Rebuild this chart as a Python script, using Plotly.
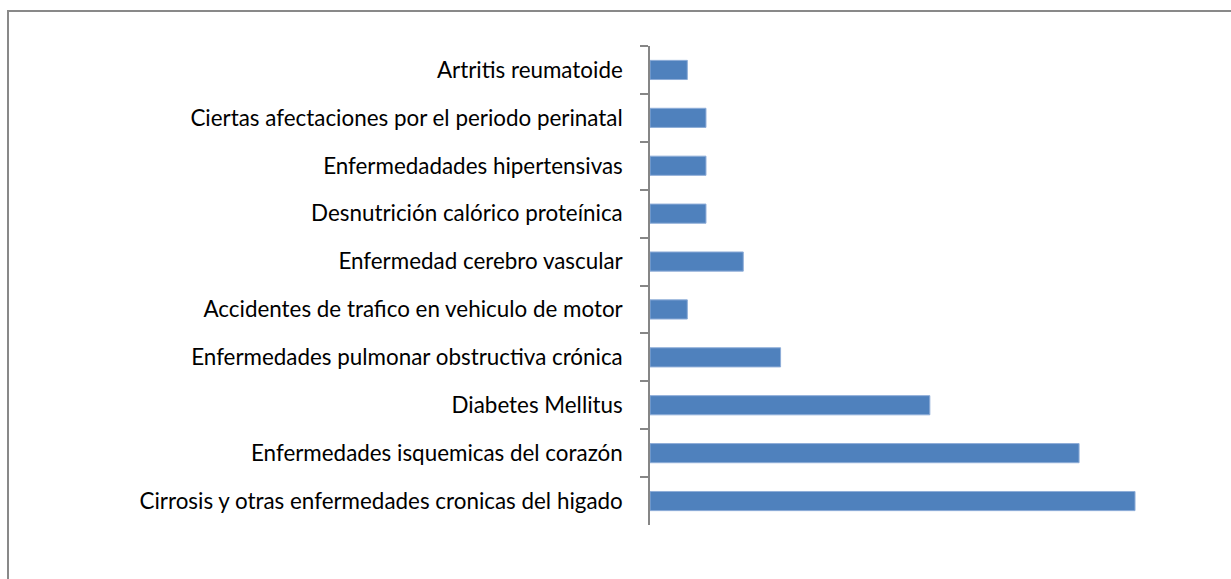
import plotly.graph_objects as go

# Causas de mortalidad, de arriba hacia abajo
causas = [
    "Artritis reumatoide",
    "Ciertas afectaciones por el periodo perinatal",
    "Enfermedadades hipertensivas",
    "Desnutrición calórico proteínica",
    "Enfermedad cerebro vascular",
    "Accidentes de trafico en vehiculo de motor",
    "Enfermedades pulmonar obstructiva crónica",
    "Diabetes Mellitus",
    "Enfermedades isquemicas del corazón",
    "Cirrosis y otras enfermedades cronicas del higado",
]
casos = [2, 3, 3, 3, 5, 2, 7, 15, 23, 26]

fig = go.Figure(
    go.Bar(
        x=casos,
        y=causas,
        orientation="h",
        marker=dict(color="#4F81BD", line=dict(color="#8EADD8", width=1)),
        hoverinfo="x+y",
    )
)

W, H = 1231, 579
L, R, T, B = 650, 40, 46, 54
pw, ph = W - L - R, H - T - B

# Marco del área del gráfico (en coordenadas de papel)
fig.add_shape(
    type="rect", xref="paper", yref="paper",
    x0=(8 - L) / pw, x1=(W + 20 - L) / pw,
    y0=-(H + 20 - (H - B)) / ph, y1=((H - B) - 11) / ph,
    line=dict(color="#898989", width=2), fillcolor="rgba(0,0,0,0)", layer="below",
)

fig.update_layout(
    width=W, height=H,
    margin=dict(l=L, r=R, t=T, b=B),
    paper_bgcolor="white", plot_bgcolor="white",
    bargap=0.6,
    showlegend=False,
    font=dict(family="Lato, Calibri, sans-serif", size=22.4, color="#000000"),
    xaxis=dict(range=[0, 29], visible=False),
    yaxis=dict(
        autorange="reversed",
        showline=True, linecolor="#868686", linewidth=1.5,
        ticks="outside", tickson="boundaries", ticklen=8, tickcolor="#868686", tickwidth=1.5,
        showgrid=False, ticklabelstandoff=21,
        tickfont=dict(family="Lato, Calibri, sans-serif", size=22.4, color="#000000"),
    ),
)

fig.write_html("out.html")
